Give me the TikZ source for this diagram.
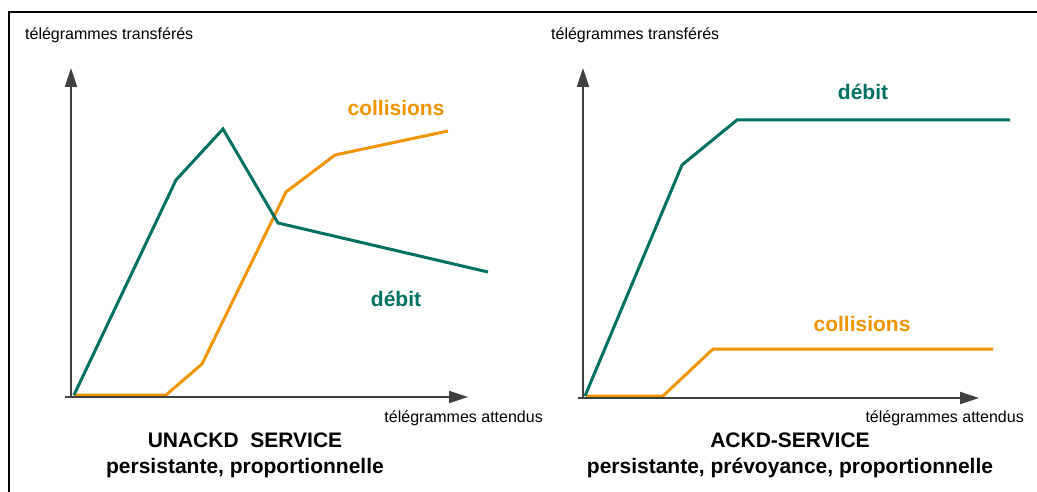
\documentclass[tikz,border=0pt]{standalone}
\usepackage{fontspec}
\setmainfont{Liberation Sans}
\usetikzlibrary{arrows.meta}
\definecolor{debitgreen}{RGB}{0,112,96}
\definecolor{collorange}{RGB}{242,148,0}

\begin{document}
\begin{tikzpicture}[x=1pt,y=-1pt,
    axis/.style={line width=1.8pt,draw=black!75,-{Triangle[length=19pt,width=12pt]}},
    debit/.style={line width=3pt,draw=debitgreen},
    coll/.style={line width=3pt,draw=collorange},
    axislabel/.style={font=\fontsize{16}{19}\selectfont,inner sep=0pt},
    curvelabel/.style={font=\fontsize{21}{25}\selectfont\bfseries,inner sep=0pt},
    titlelabel/.style={font=\fontsize{21}{26}\selectfont\bfseries,inner sep=0pt,align=center}]
    \useasboundingbox (0,0) rectangle (1037,492);
    % frame
    \draw[line width=1.5pt] (9,492) -- (9,12) -- (1037,12);
    % left chart
    \coordinate (oA) at (71,397);
    \coordinate (yA) at (71,68);
    \coordinate (xA) at (468,397);
    \draw[coll] (74,395) -- (166,395) -- (202,364) -- (286,192) -- (335,155) -- (448,131);
    \draw[debit] (74,395) -- (176,180) -- (223,129) -- (278,223) -- (488,272);
    \draw[axis] (oA) -- (yA);
    \draw[axis] (65,397) -- (xA);
    \node[axislabel,anchor=west] (ylabelA) at (25,35) {télégrammes transférés};
    \node[axislabel,anchor=east] (xlabelA) at (543,418) {télégrammes attendus};
    \node[curvelabel,text=collorange] (collA) at (396,108) {collisions};
    \node[curvelabel,text=debitgreen] (debitA) at (396,299) {débit};
    \node[titlelabel] (titleA) at (245,455) {UNACKD\ \ SERVICE\\persistante, proportionnelle};
    % right chart
    \coordinate (oB) at (583,398);
    \coordinate (yB) at (583,68);
    \coordinate (xB) at (979,398);
    \draw[coll] (586,396) -- (663,396) -- (713,349) -- (993,349);
    \draw[debit] (585,396) -- (682,165) -- (737,120) -- (1010,120);
    \draw[axis] (oB) -- (yB);
    \draw[axis] (578,398) -- (xB);
    \node[axislabel,anchor=west] (ylabelB) at (551,35) {télégrammes transférés};
    \node[axislabel,anchor=east] (xlabelB) at (1024,418) {télégrammes attendus};
    \node[curvelabel,text=debitgreen] (debitB) at (863,92) {débit};
    \node[curvelabel,text=collorange] (collB) at (862,324) {collisions};
    \node[titlelabel] (titleB) at (790,455) {ACKD-SERVICE\\persistante, prévoyance, proportionnelle};
\end{tikzpicture}
\end{document}
